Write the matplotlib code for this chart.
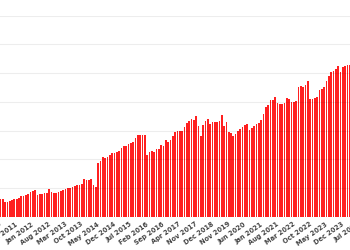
import matplotlib
matplotlib.use("Agg")
import matplotlib.pyplot as plt

# --- data: one bar per month (gaps in the calendar are as in the source) ---
values = [
    12.3, 12.3, 10.7, 10.7, 11.0, 11.6, 12.3, 12.3, 13.4, 14.6,
    14.6, 15.5, 16.0, 17.2, 18.1, 18.6, 15.5, 16.0, 16.2, 16.5,
    17.0, 19.3, 17.6, 16.7, 16.7, 17.5, 18.3, 19.0, 19.5, 20.0,
    20.2, 20.7, 21.5, 22.1, 22.3, 23.2, 26.3, 25.8, 26.0, 26.3,
    22.3, 21.1, 37.4, 39.0, 41.6, 40.9, 42.0, 43.2, 44.4, 44.8,
    45.3, 46.2, 47.6, 49.0, 49.5, 50.4, 51.4, 52.1, 54.6, 56.9,
    56.9, 56.9, 57.0, 43.2, 45.5, 46.2, 45.3, 47.4, 47.4, 50.2,
    49.0, 53.2, 52.1, 53.7, 56.4, 59.4, 59.9, 59.9, 59.9, 62.2,
    65.3, 66.4, 68.3, 67.1, 70.4, 63.4, 56.4, 63.9, 66.9, 68.1,
    64.6, 65.7, 66.2, 66.2, 66.9, 70.6, 62.9, 65.7, 59.4, 58.7,
    56.4, 57.4, 59.9, 61.3, 62.5, 63.9, 64.6, 60.6, 61.8, 63.2,
    64.8, 65.3, 67.1, 71.8, 76.4, 77.8, 81.0, 81.5, 83.1, 79.2,
    78.8, 78.8, 79.2, 82.4, 82.0, 79.7, 80.1, 80.8, 90.4, 91.3,
    90.1, 92.0, 94.3, 82.2, 82.2, 82.4, 83.1, 88.0, 89.0, 90.1,
    94.3, 97.8, 100.6, 101.1, 102.9, 104.7, 100.6, 104.1, 105.2, 105.7,
    105.7,
]

tick_labels = [
    "Nov 2010", "Jun 2011", "Jan 2012", "Aug 2012", "Mar 2013", "Oct 2013",
    "May 2014", "Dec 2014", "Jul 2015", "Feb 2016", "Sep 2016", "Apr 2017",
    "Nov 2017", "Dec 2018", "Nov 2019", "Jun 2020", "Jan 2021", "Aug 2021",
    "Mar 2022", "Oct 2022", "May 2023", "Dec 2023", "Jul 2024",
]
first_tick = 1
tick_step = 7

# --- figure: the reference is a crop, so the axes run past the edges ---
fig = plt.figure(figsize=(3.5, 2.5), dpi=100)
ax = fig.add_axes([-0.0023, 0.132, 1.0417, 0.806])

x = range(len(values))
ax.bar(x, values, width=0.72, color="#ff2020", edgecolor="none", zorder=1)

ticks = [first_tick + k * tick_step for k in range(len(tick_labels))]
ax.set_xticks(ticks)
ax.set_xticklabels(tick_labels, rotation=35, ha="right", fontsize=4.8,
                   fontweight="bold", color="#444444")
ax.tick_params(axis="x", length=0, pad=3)
ax.tick_params(axis="y", left=False, labelleft=False)

ax.set_xlim(-0.5, 156)
ax.set_ylim(0, 140)
ax.set_yticks(range(0, 141, 20))
ax.grid(axis="y", color="black", alpha=0.07, linewidth=0.8, zorder=2)
ax.set_axisbelow(False)
for s in ax.spines.values():
    s.set_visible(False)

fig.savefig("out.png", dpi=100)
